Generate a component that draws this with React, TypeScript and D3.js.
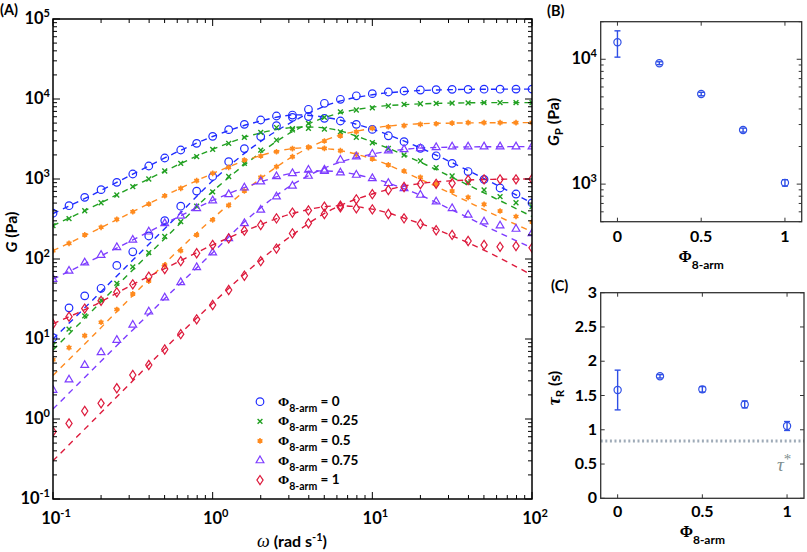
import React from 'react'
import * as d3 from 'd3'

// angular frequency of the sweep (rad/s), 10 points per decade
const omega = [0.1, 0.126, 0.158, 0.2, 0.251, 0.316, 0.398, 0.501, 0.631, 0.794,
  1, 1.26, 1.58, 2, 2.51, 3.16, 3.98, 5.01, 6.31, 7.94,
  10, 12.6, 15.8, 20, 25.1, 31.6, 39.8, 50.1, 63.1, 79.4, 100]
// frequencies where the model curves were read
const omegaFit = [0.1, 0.178, 0.316, 0.562, 1, 1.78, 3.16, 5.62, 10, 17.8, 31.6, 56.2, 100]

const storage0 = [10.4, 24.5, 34.6, 43, 83, 123, 194, 302, 457, 706, 1075, 1645, 2400, 3390, 4640, 5900, 7430, 8830, 9910, 10970, 11660, 12230, 12590, 12950, 13100, 13200, 13200, 13250, 13250, 13300, 13300]
const loss0 = [373, 464, 590, 736, 908, 1155, 1454, 1830, 2304, 2790, 3414, 4140, 4820, 5465, 6130, 6300, 6040, 5730, 5310, 4820, 4170, 3470, 2930, 2420, 1950, 1570, 1240, 990, 772, 649, 502]
const storage25 = [8.4, 13.3, 19.5, 30.7, 49.7, 79.7, 120, 191, 293, 457, 691, 1075, 1570, 2300, 3070, 4100, 4970, 5890, 6920, 7290, 7760, 8180, 8580, 8720, 8830, 8900, 8950, 9000, 9000, 9000, 9000]
const loss25 = [261, 319, 401, 505, 631, 801, 1000, 1259, 1570, 1900, 2345, 2790, 3315, 3830, 4400, 4250, 4300, 4200, 3890, 3315, 2840, 2420, 1995, 1680, 1386, 1090, 900, 729, 601, 505, 451]
const storage50 = [5.5, 7.8, 11, 16.2, 23.4, 36.6, 53, 84, 127, 200, 309, 468, 708, 1050, 1425, 1900, 2490, 2985, 3460, 3890, 4300, 4500, 4640, 4820, 4900, 5000, 5060, 5060, 5060, 5060, 5060]
const loss50 = [127, 157, 200, 249, 313, 390, 487, 617, 764, 953, 1178, 1400, 1728, 1940, 2190, 2400, 2490, 2410, 2260, 2030, 1780, 1500, 1260, 1050, 866, 708, 590, 482, 398, 340, 290]
const storage75 = [2.3, 3.1, 4.7, 6.8, 9.7, 15, 21.9, 32.8, 51, 78.7, 120, 181, 279, 410, 601, 818, 1090, 1300, 1728, 1900, 2054, 2260, 2345, 2410, 2490, 2535, 2535, 2540, 2540, 2540, 2540]
const loss75 = [56, 71, 90, 112, 140, 173, 219, 279, 345, 430, 537, 643, 777, 927, 1075, 1178, 1295, 1250, 1200, 1122, 1020, 884, 764, 631, 521, 430, 355, 293, 261, 237, 209]
const storage100 = [0.695, 0.88, 1.26, 1.57, 2.42, 3.55, 4.73, 7.4, 11.5, 17.6, 26.6, 41, 61.7, 94, 135, 209, 279, 365, 443, 557, 646, 729, 795, 866, 870, 884, 971, 990, 990, 990, 1000]
const loss100 = [15.4, 19, 24, 30, 38.3, 48.2, 60, 75, 94, 118, 150, 181, 226, 266, 322, 380, 405, 451, 464, 430, 417, 365, 322, 274, 229, 200, 168, 150, 142, 145, 138]

// model fits (dashed)
const fitStorage0 = [10, 31, 97, 300, 950, 2500, 5200, 8800, 11300, 12600, 13100, 13250, 13300]
const fitLoss0 = [370, 640, 1150, 2050, 3400, 5000, 6300, 5700, 4200, 2700, 1600, 900, 500]
const fitStorage25 = [7.3, 23, 73, 225, 700, 1800, 3900, 6300, 7900, 8600, 8900, 9000, 9000]
const fitLoss25 = [262, 450, 800, 1400, 2350, 3550, 4400, 4200, 2900, 1800, 1050, 600, 340]
const fitStorage50 = [3.5, 11, 35, 110, 320, 850, 1900, 3300, 4300, 4850, 5000, 5050, 5060]
const fitLoss50 = [127, 220, 390, 690, 1170, 1830, 2400, 2350, 1780, 1100, 650, 370, 220]
const fitStorage75 = [1.33, 4.2, 13, 40, 120, 360, 850, 1500, 2050, 2400, 2500, 2530, 2540]
const fitLoss75 = [56, 98, 173, 310, 540, 850, 1180, 1250, 1020, 690, 410, 235, 137]
const fitStorage100 = [0.3, 0.95, 3, 9.5, 28, 80, 200, 420, 650, 850, 950, 990, 1000]
const fitLoss100 = [15.5, 26, 48, 85, 150, 245, 370, 460, 420, 300, 195, 115, 63]

const phiLabels = ['0', '0.25', '0.5', '0.75', '1']
const seriesColors = ['#1f2cff', '#21a021', '#ff8b1f', '#7d3cff', '#dd1a3c']
const markerTypes = ['circle', 'cross', 'star', 'triangle', 'diamond']

// panels B and C
const phi = [0, 0.25, 0.5, 0.75, 1]
const plateau = [13700, 9290, 5270, 2710, 1024]
const plateauLow = [10400, 9050, 5100, 2610, 965]
const plateauHigh = [16900, 9550, 5440, 2810, 1085]
const tauR = [1.58, 1.78, 1.59, 1.37, 1.055]
const tauLow = [1.29, 1.755, 1.55, 1.32, 0.99]
const tauHigh = [1.87, 1.805, 1.63, 1.42, 1.12]
const tauStar = 0.836
const tauTicks = [0, 0.5, 1, 1.5, 2, 2.5, 3]
const phiTicks = [0, 0.5, 1]

const series = [
  { storage: storage0, loss: loss0, fitS: fitStorage0, fitL: fitLoss0 },
  { storage: storage25, loss: loss25, fitS: fitStorage25, fitL: fitLoss25 },
  { storage: storage50, loss: loss50, fitS: fitStorage50, fitL: fitLoss50 },
  { storage: storage75, loss: loss75, fitS: fitStorage75, fitL: fitLoss75 },
  { storage: storage100, loss: loss100, fitS: fitStorage100, fitL: fitLoss100 },
]

const FONT = 'Lato, "Open Sans", sans-serif'
const SERIF = '"Liberation Serif", "DejaVu Serif", serif'
const pointBlue = '#2f4fe6'

const isDecade = (t: number) => Math.abs(Math.log10(t) - Math.round(Math.log10(t))) < 1e-6
const asterisk = d3.symbol(d3.symbolAsterisk, 22)()!

function Marker({ type, x, y, color }: { type: string, x: number, y: number, color: string }) {
  if (type === 'circle') return <circle cx={x} cy={y} r={3.8} fill="none" stroke={color} strokeWidth={1.2} />
  if (type === 'cross') {
    const s = 2.4
    return <path d={`M${x - s},${y - s}L${x + s},${y + s}M${x - s},${y + s}L${x + s},${y - s}`} stroke={color} strokeWidth={1.4} />
  }
  if (type === 'star') {
    return <g transform={`translate(${x},${y})`} fill={color} stroke={color}>
      <circle r={2.1} stroke="none" />
      <path d={asterisk} strokeWidth={1.5} />
    </g>
  }
  if (type === 'triangle') {
    return <path transform={`translate(${x},${y})`} d={d3.symbol(d3.symbolTriangle, 26)()!} fill="none" stroke={color} strokeWidth={1.2} />
  }
  return <path d={`M${x},${y - 4.6}L${x + 3.1},${y}L${x},${y + 4.6}L${x - 3.1},${y}Z`} fill="none" stroke={color} strokeWidth={1.2} />
}

function PowLabel({ x, y, exp, anchor = 'end' }: { x: number, y: number, exp: number, anchor?: string }) {
  return (
    <text x={x} y={y} textAnchor={anchor} fontFamily={FONT} fontWeight="bold" fontSize={16.5}>
      10<tspan dy={-7} fontSize={11}>{exp}</tspan>
    </text>
  )
}

function PhiTitle({ x, y }: { x: number, y: number }) {
  return (
    <text x={x} y={y} textAnchor="middle" fontWeight="bold" fontSize={16}>
      <tspan fontFamily={SERIF}>Φ</tspan>
      <tspan fontFamily={FONT} fontSize={12} dy={7}>8-arm</tspan>
    </text>
  )
}

function PanelA() {
  const x = d3.scaleLog().domain([0.1, 100]).range([53, 532])
  const y = d3.scaleLog().domain([0.1, 1e5]).range([499, 19])
  const [x0, x1] = x.range()
  const [y0, y1] = y.range()
  const line = d3.line<[number, number]>().x(d => x(d[0])).y(d => y(d[1])).curve(d3.curveCatmullRom)
  const xt = x.ticks()
  const yt = y.ticks()
  return (
    <g>
      <defs>
        <clipPath id="clipA"><rect x={x0} y={y1} width={x1 - x0} height={y0 - y1} /></clipPath>
      </defs>
      <g clipPath="url(#clipA)">
        {series.map((s, k) => (
          <g key={k} fill="none" stroke={seriesColors[k]} strokeWidth={1.4} strokeDasharray="6,5">
            <path d={line(omegaFit.map((w, i) => [w, s.fitS[i]] as [number, number]))!} />
            <path d={line(omegaFit.map((w, i) => [w, s.fitL[i]] as [number, number]))!} />
          </g>
        ))}
        {series.map((s, k) => (
          <g key={k}>
            {omega.map((w, i) => <Marker key={'s' + i} type={markerTypes[k]} x={x(w)} y={y(s.storage[i])} color={seriesColors[k]} />)}
            {omega.map((w, i) => <Marker key={'l' + i} type={markerTypes[k]} x={x(w)} y={y(s.loss[i])} color={seriesColors[k]} />)}
          </g>
        ))}
      </g>
      <rect x={x0} y={y1} width={x1 - x0} height={y0 - y1} fill="none" stroke="#000" strokeWidth={1.5} />
      <g stroke="#000" strokeWidth={1}>
        {xt.map((t, i) => {
          const l = isDecade(t) ? 7 : 4
          return <g key={i}>
            <line x1={x(t)} x2={x(t)} y1={y0} y2={y0 - l} />
            <line x1={x(t)} x2={x(t)} y1={y1} y2={y1 + l} />
          </g>
        })}
        {yt.map((t, i) => {
          const l = isDecade(t) ? 7 : 4
          return <g key={i}>
            <line x1={x0} x2={x0 + l} y1={y(t)} y2={y(t)} />
            <line x1={x1} x2={x1 - l} y1={y(t)} y2={y(t)} />
          </g>
        })}
      </g>
      {yt.filter(isDecade).map((t, i) => (
        <PowLabel key={i} x={50} y={y(t) + 5} exp={Math.round(Math.log10(t))} />
      ))}
      {xt.filter(isDecade).map((t, i) => (
        <PowLabel key={i} x={x(t) + 3} y={524} exp={Math.round(Math.log10(t))} anchor="middle" />
      ))}
      <text x={0} y={15} fontFamily={FONT} fontWeight="bold" fontSize={14.5}>(A)</text>
      <text transform="translate(17,232) rotate(-90)" textAnchor="middle" fontFamily={FONT} fontWeight="bold" fontSize={16}>
        <tspan fontStyle="italic">G</tspan> (Pa)
      </text>
      <text x={292} y={547} textAnchor="middle" fontFamily={FONT} fontWeight="bold" fontSize={16}>
        <tspan fontFamily={SERIF} fontStyle="italic" fontWeight="normal" fontSize={18}>ω</tspan> (rad s<tspan dy={-6} fontSize={11}>-1</tspan><tspan dy={6}>)</tspan>
      </text>
      {phiLabels.map((p, k) => {
        const ly = 401.7 + k * 19.6
        return <g key={k}>
          <Marker type={markerTypes[k]} x={260} y={ly} color={seriesColors[k]} />
          <text x={278} y={ly + 4} fontWeight="bold" fontSize={13.5}>
            <tspan fontFamily={SERIF}>Φ</tspan>
            <tspan fontFamily={FONT} fontSize={10.5} dy={6}>8-arm</tspan>
            <tspan fontFamily={FONT} dy={-6}> = {p}</tspan>
          </text>
        </g>
      })}
    </g>
  )
}

function PanelB() {
  const x = d3.scaleLinear().domain([-0.1, 1.1]).range([600.7, 801.7])
  const y = d3.scaleLog().domain([500, 20000]).range([221.7, 21.7])
  const [x0, x1] = x.range()
  const [y0, y1] = y.range()
  const yt = y.ticks()
  return (
    <g>
      <rect x={x0} y={y1} width={x1 - x0} height={y0 - y1} fill="none" stroke="#333" strokeWidth={1.3} />
      <g stroke="#333" strokeWidth={1}>
        {yt.map((t, i) => {
          const l = isDecade(t) ? 5 : 3
          return <g key={i}>
            <line x1={x0} x2={x0 + l} y1={y(t)} y2={y(t)} />
            <line x1={x1} x2={x1 - l} y1={y(t)} y2={y(t)} />
          </g>
        })}
        {phiTicks.map((t, i) => <g key={i}>
          <line x1={x(t)} x2={x(t)} y1={y0} y2={y0 - 4} />
          <line x1={x(t)} x2={x(t)} y1={y1} y2={y1 + 4} />
        </g>)}
      </g>
      {phi.map((p, i) => (
        <g key={i} stroke={pointBlue} fill="none" strokeWidth={1.4}>
          <line x1={x(p)} x2={x(p)} y1={y(plateauLow[i])} y2={y(plateauHigh[i])} />
          <line x1={x(p) - 3} x2={x(p) + 3} y1={y(plateauLow[i])} y2={y(plateauLow[i])} />
          <line x1={x(p) - 3} x2={x(p) + 3} y1={y(plateauHigh[i])} y2={y(plateauHigh[i])} />
          <circle cx={x(p)} cy={y(plateau[i])} r={3.6} strokeWidth={1.2} />
        </g>
      ))}
      {yt.filter(isDecade).map((t, i) => (
        <PowLabel key={i} x={597} y={y(t) + 5} exp={Math.round(Math.log10(t))} />
      ))}
      {phiTicks.map((t, i) => (
        <text key={i} x={x(t)} y={242} textAnchor="middle" fontFamily={FONT} fontWeight="bold" fontSize={16}>{t}</text>
      ))}
      <PhiTitle x={x(0.5)} y={262} />
      <text x={547} y={16} fontFamily={FONT} fontWeight="bold" fontSize={14.5}>(B)</text>
      <text transform="translate(559,122) rotate(-90)" textAnchor="middle" fontFamily={FONT} fontWeight="bold" fontSize={16}>
        <tspan fontStyle="italic">G</tspan><tspan fontSize={11.5} dy={4}>P</tspan><tspan dy={-4}> (Pa)</tspan>
      </text>
    </g>
  )
}

function PanelC() {
  const x = d3.scaleLinear().domain([-0.1, 1.1]).range([600.7, 804])
  const y = d3.scaleLinear().domain([0, 3]).range([498.3, 292.7])
  const [x0, x1] = x.range()
  const [y0, y1] = y.range()
  return (
    <g>
      <line x1={x0} x2={x1} y1={y(tauStar)} y2={y(tauStar)} stroke="#9fabb8" strokeWidth={3} strokeDasharray="2,2.6" />
      <rect x={x0} y={y1} width={x1 - x0} height={y0 - y1} fill="none" stroke="#333" strokeWidth={1.3} />
      <g stroke="#333" strokeWidth={1}>
        {tauTicks.map((t, i) => <g key={i}>
          <line x1={x0} x2={x0 + 4} y1={y(t)} y2={y(t)} />
          <line x1={x1} x2={x1 - 4} y1={y(t)} y2={y(t)} />
        </g>)}
        {phiTicks.map((t, i) => <g key={i}>
          <line x1={x(t)} x2={x(t)} y1={y0} y2={y0 - 4} />
          <line x1={x(t)} x2={x(t)} y1={y1} y2={y1 + 4} />
        </g>)}
      </g>
      {phi.map((p, i) => (
        <g key={i} stroke={pointBlue} fill="none" strokeWidth={1.4}>
          <line x1={x(p)} x2={x(p)} y1={y(tauLow[i])} y2={y(tauHigh[i])} />
          <line x1={x(p) - 3} x2={x(p) + 3} y1={y(tauLow[i])} y2={y(tauLow[i])} />
          <line x1={x(p) - 3} x2={x(p) + 3} y1={y(tauHigh[i])} y2={y(tauHigh[i])} />
          <circle cx={x(p)} cy={y(tauR[i])} r={3.6} strokeWidth={1.2} />
        </g>
      ))}
      {tauTicks.map((t, i) => (
        <text key={i} x={597} y={y(t) + 5} textAnchor="end" fontFamily={FONT} fontWeight="bold" fontSize={16}>{t}</text>
      ))}
      {phiTicks.map((t, i) => (
        <text key={i} x={x(t)} y={517} textAnchor="middle" fontFamily={FONT} fontWeight="bold" fontSize={16}>{t}</text>
      ))}
      <PhiTitle x={x(0.5)} y={537} />
      <text x={551} y={291} fontFamily={FONT} fontWeight="bold" fontSize={14.5}>(C)</text>
      <text transform="translate(560,388) rotate(-90)" textAnchor="middle" fontWeight="bold" fontSize={16}>
        <tspan fontFamily={SERIF} fontStyle="italic" fontSize={18}>τ</tspan><tspan fontFamily={FONT} fontSize={11.5} dy={4}>R</tspan><tspan fontFamily={FONT} dy={-4}> (s)</tspan>
      </text>
      <text x={777} y={471} fontFamily={SERIF} fontStyle="italic" fontSize={19} fill="#808f8f">
        τ<tspan dy={-7} fontSize={15} fontStyle="normal">*</tspan>
      </text>
    </g>
  )
}

export default function App() {
  return (
    <svg width={807} height={552} style={{ position: 'absolute', left: 0, top: 0, background: '#fff' }}>
      <PanelA />
      <PanelB />
      <PanelC />
    </svg>
  )
}
